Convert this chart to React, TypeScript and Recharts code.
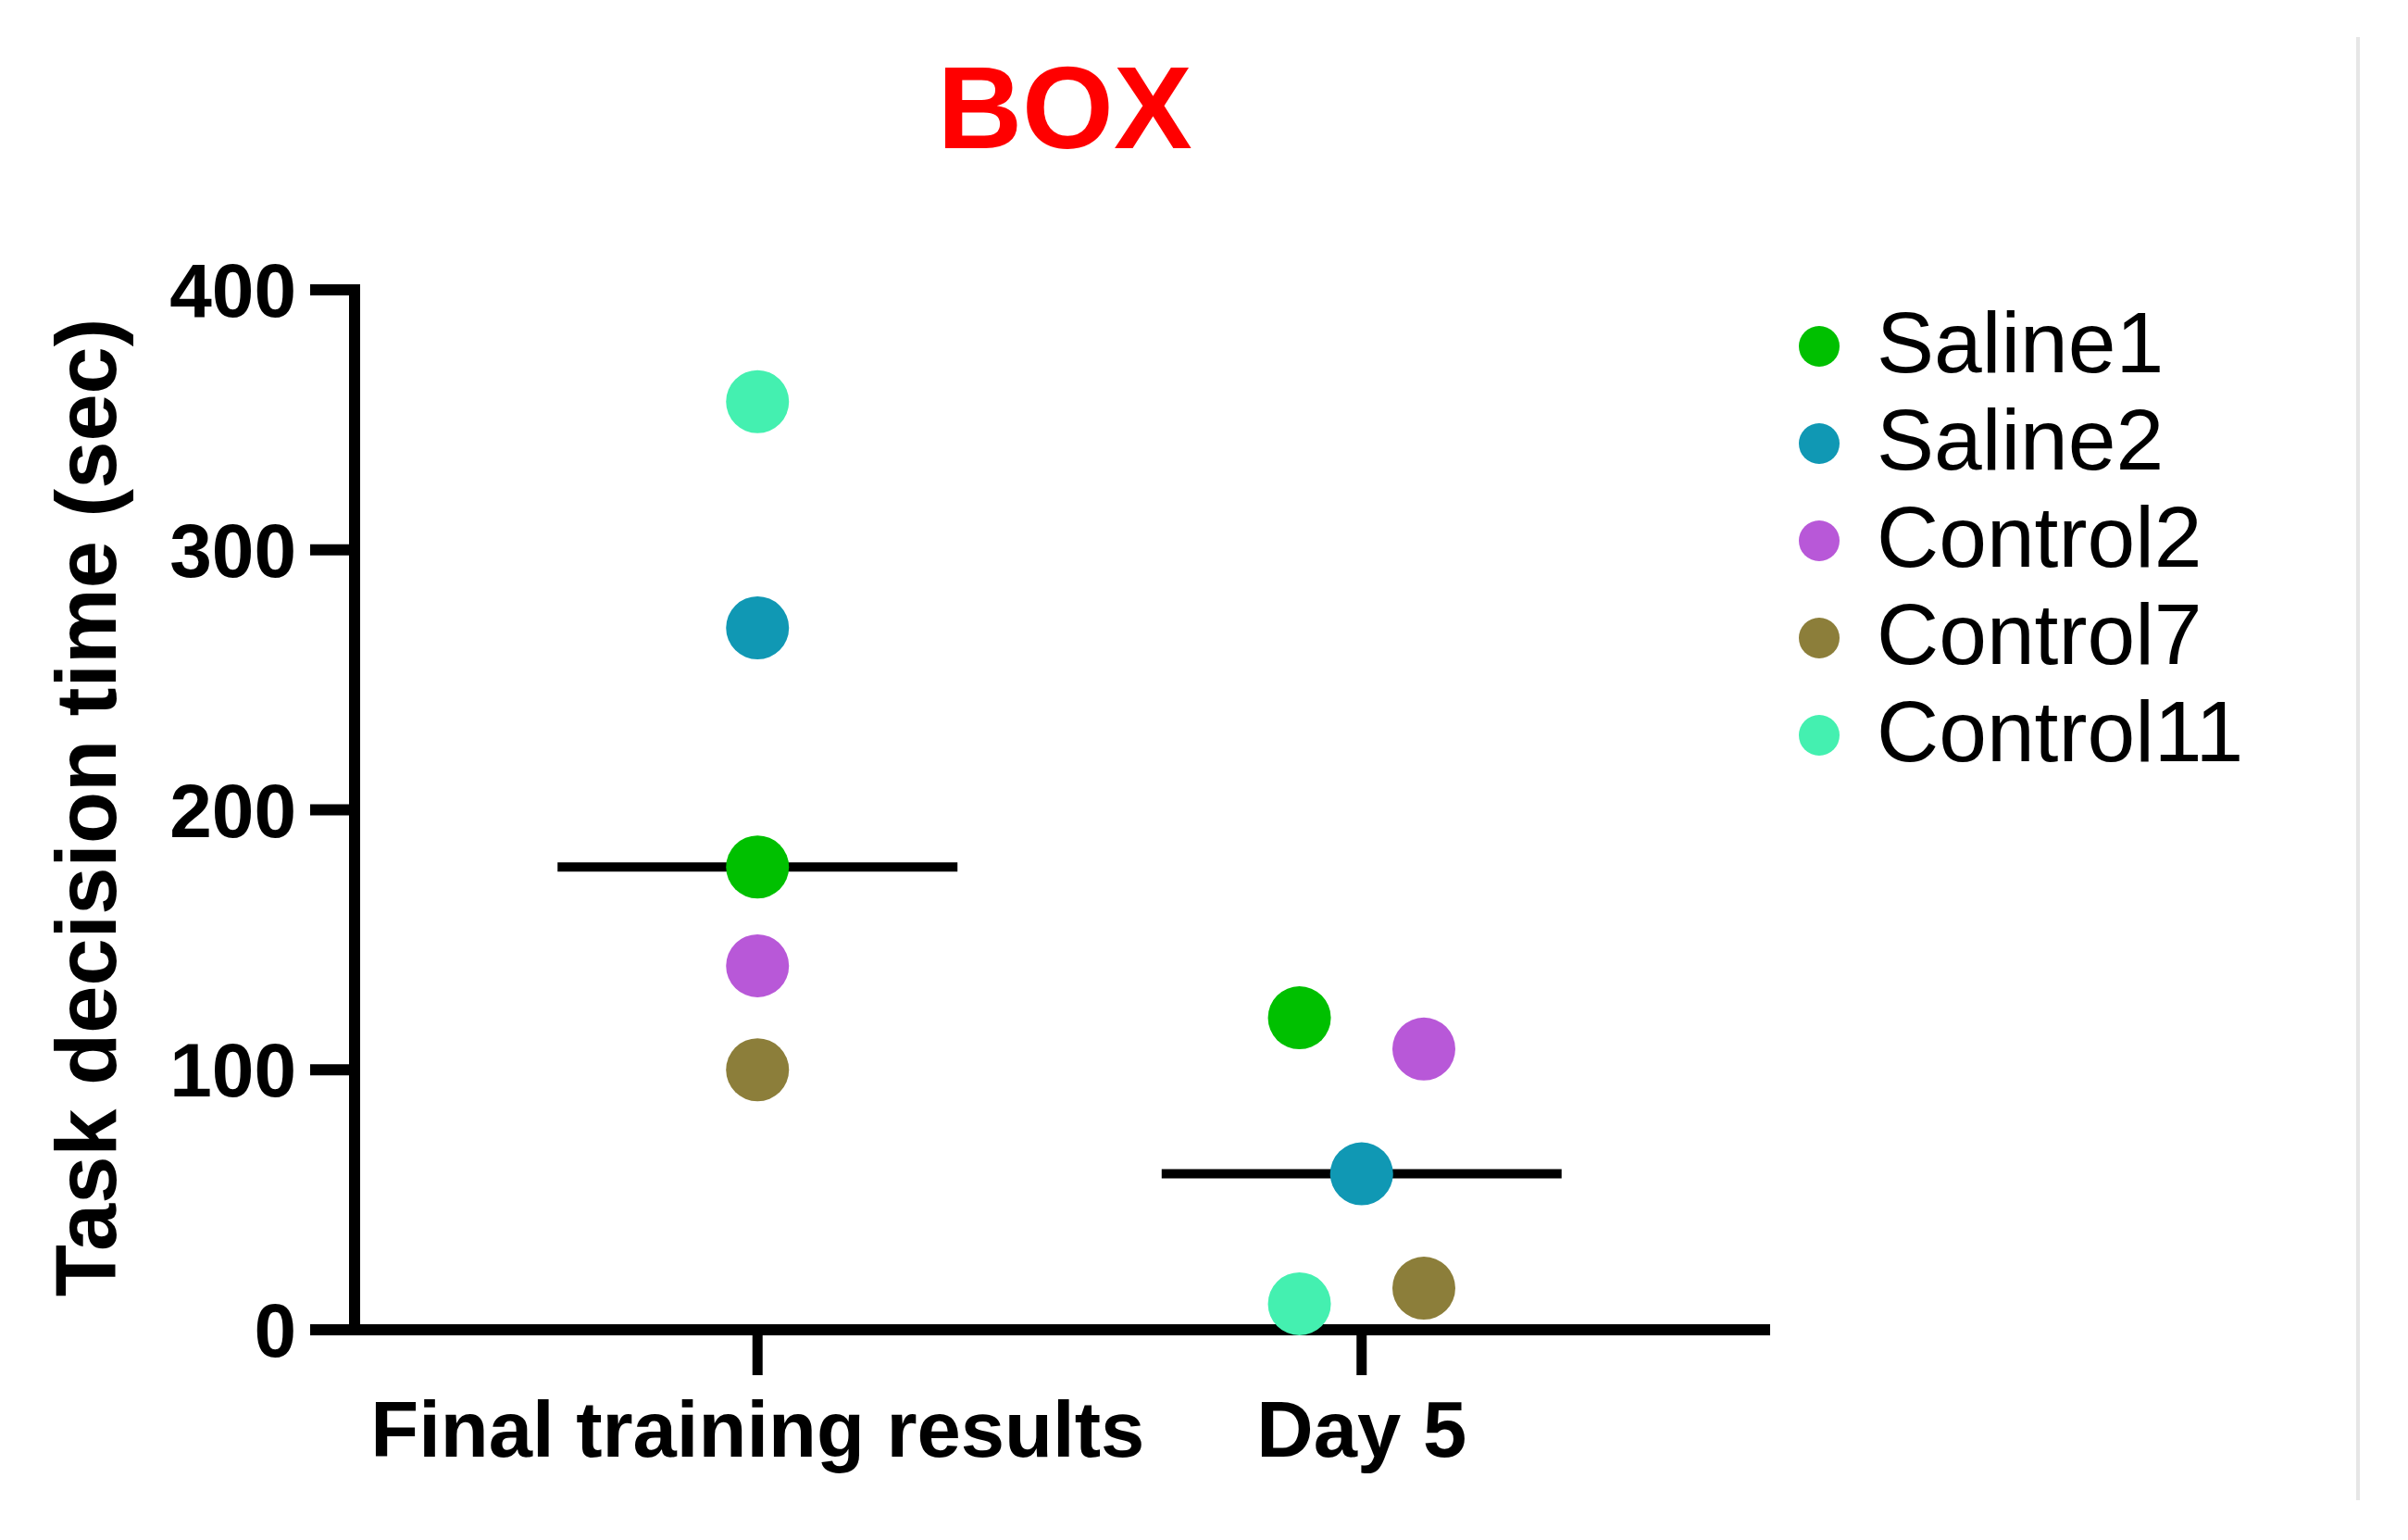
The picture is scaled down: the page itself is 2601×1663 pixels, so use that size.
import React from "react"
import { ScatterChart, Scatter, XAxis, YAxis } from "recharts"

// categories on the x axis
const CATEGORIES = ["Final training results", "Day 5"]
const Y_TICKS = [0, 100, 200, 300, 400]

// one value per category for each animal
const SERIES_NAMES = ["Saline1", "Saline2", "Control2", "Control7", "Control11"]
const SALINE1 = [178, 120]
const SALINE2 = [270, 60]
const CONTROL2 = [140, 108]
const CONTROL7 = [100, 16]
const CONTROL11 = [357, 10]

const SERIES_VALUES = [SALINE1, SALINE2, CONTROL2, CONTROL7, CONTROL11]
const COLORS = ["#00c000", "#1098b4", "#b858d8", "#8c7e3a", "#44f0b0"]

// side-by-side offsets (GraphPad style) so overlapping points don't hide each other
const DODGE = [
  [0, 0, 0, 0, 0],
  [-0.103, 0, 0.103, 0.103, -0.103],
]

const FONT = "'Liberation Sans', Arial, Helvetica, sans-serif"
const W = 2601
const H = 1663

const median = (vals: number[]) => {
  const s = [...vals].sort((a, b) => a - b)
  const m = Math.floor(s.length / 2)
  return s.length % 2 ? s[m] : (s[m - 1] + s[m]) / 2
}

const pointData = SERIES_VALUES.map((vals, si) =>
  vals.map((v, ci) => ({ x: ci + 1 + DODGE[ci][si], y: v }))
)

const medianData = CATEGORIES.map((_, ci) => {
  const m = median(SERIES_VALUES.map((vals) => vals[ci]))
  return [
    { x: ci + 1 - 0.331, y: m },
    { x: ci + 1 + 0.331, y: m },
  ]
})

const dot = (color: string, r: number) => (props: any) =>
  <circle cx={props.cx} cy={props.cy} r={r} fill={color} />

export default function App() {
  return (
    <div style={{ position: "absolute", left: 0, top: 0, width: W, height: H, background: "#fff" }}>
      <ScatterChart width={W} height={H} margin={{ top: 313, right: 695, bottom: 77, left: 0 }}>
        <XAxis
          type="number"
          dataKey="x"
          domain={[0.333, 2.667]}
          ticks={[1, 2]}
          interval={0}
          allowDataOverflow
          height={150}
          tickFormatter={(v: number) => CATEGORIES[v - 1] ?? ""}
          axisLine={{ stroke: "#000", strokeWidth: 12, strokeLinecap: "square" }}
          tickLine={{ stroke: "#000", strokeWidth: 11 }}
          tickSize={49}
          tickMargin={28}
          tick={{ fill: "#000", fontSize: 85, fontWeight: 700, fontFamily: FONT }}
        />
        <YAxis
          type="number"
          dataKey="y"
          domain={[0, 400]}
          ticks={Y_TICKS}
          interval={0}
          width={383}
          axisLine={{ stroke: "#000", strokeWidth: 12, strokeLinecap: "square" }}
          tickLine={{ stroke: "#000", strokeWidth: 12 }}
          tickSize={48}
          tickMargin={15}
          tick={{ fill: "#000", fontSize: 82, fontWeight: 700, fontFamily: FONT }}
        />
        {medianData.map((d, i) => (
          <Scatter
            key={"median" + i}
            data={d}
            line={{ stroke: "#000", strokeWidth: 10 }}
            shape={() => <g />}
            legendType="none"
            isAnimationActive={false}
          />
        ))}
        {pointData.map((d, i) => (
          <Scatter
            key={SERIES_NAMES[i]}
            name={SERIES_NAMES[i]}
            data={d}
            fill={COLORS[i]}
            shape={dot(COLORS[i], 34)}
            isAnimationActive={false}
          />
        ))}
      </ScatterChart>

      <svg
        width={W}
        height={H}
        style={{ position: "absolute", left: 0, top: 0, pointerEvents: "none" }}
      >
        <text x={1150} y={160} textAnchor="middle" fill="#ff0000" fontSize={127} fontWeight={700} fontFamily={FONT}>
          BOX
        </text>
        <text
          x={125}
          y={872}
          transform="rotate(-90 125 872)"
          textAnchor="middle"
          fill="#000"
          fontSize={92}
          fontWeight={700}
          fontFamily={FONT}
        >
          Task decision time (sec)
        </text>
        {SERIES_NAMES.map((name, i) => (
          <g key={name}>
            <circle cx={1965} cy={374 + i * 105} r={22} fill={COLORS[i]} />
            <text x={2027} y={402 + i * 105} fill="#000" fontSize={93} fontFamily={FONT}>
              {name}
            </text>
          </g>
        ))}
        <line x1={2547} y1={40} x2={2547} y2={1620} stroke="#e6e6e6" strokeWidth={4} />
      </svg>
    </div>
  )
}
